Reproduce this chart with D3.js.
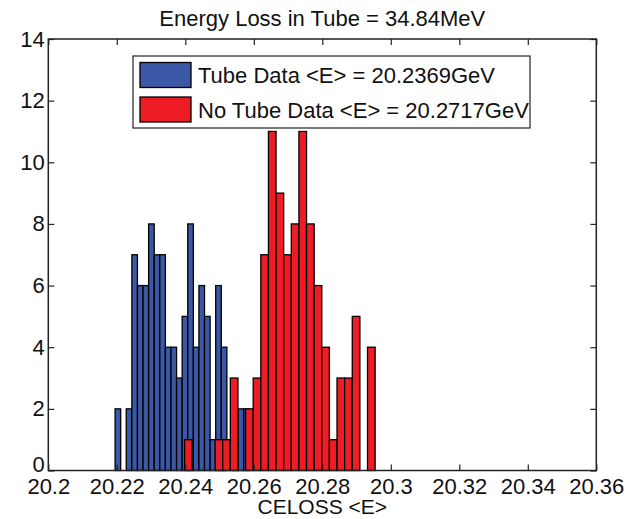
<!DOCTYPE html>
<html>
<head>
<meta charset="utf-8">
<script src="https://cdn.jsdelivr.net/npm/d3@7"></script>
<style>
  html, body { margin: 0; padding: 0; background: #fff; }
  svg { display: block; }
  text { font-family: "Liberation Sans", Arial, Helvetica, sans-serif; fill: #111; }
</style>
</head>
<body>
<svg id="chart" width="630" height="519"></svg>
<script>
// Histogram of reconstructed energy, with and without the tube
const titleText = "Energy Loss in Tube = 34.84MeV";
const xLabel = "CELOSS <E>";

// Tube data: equal-width bins starting at tubeBinStart
const tubeBinStart = 20.2195;
const tubeBinWidth = 0.001632;
const tubeCounts = [2, 0, 2, 7, 6, 6, 8, 7, 7, 4, 4, 3, 5, 8, 4, 6, 5, 1, 6, 4, 0, 2, 2, 2];
const tubeLabel = "Tube Data <E> = 20.2369GeV";

// No-tube data
const noTubeBinStart = 20.2398;
const noTubeBinWidth = 0.002225;
const noTubeCounts = [1, 0, 0, 0, 1, 1, 3, 0, 2, 3, 7, 11, 9, 7, 8, 11, 8, 6, 4, 1, 3, 3, 5, 0, 4];
const noTubeLabel = "No Tube Data <E> = 20.2717GeV";

const xTicks = [20.2, 20.22, 20.24, 20.26, 20.28, 20.3, 20.32, 20.34, 20.36];
const yTicks = [0, 2, 4, 6, 8, 10, 12, 14];

const blue = "#3b58a6";
const red = "#ee1d25";

const svg = d3.select("#chart");
const margin = { left: 48.3, right: 630 - 596.3, top: 39, bottom: 519 - 470.5 };
const W = 630, H = 519;

const x = d3.scaleLinear().domain([20.2, 20.36]).range([margin.left, W - margin.right]);
const y = d3.scaleLinear().domain([0, 14]).range([H - margin.bottom, margin.top]);

function bins(start, width, counts) {
  return counts.map((c, i) => ({ x0: start + i * width, x1: start + (i + 1) * width, n: c }))
               .filter(d => d.n > 0);
}

const plot = svg.append("g");

function drawBars(data, color) {
  plot.append("g").selectAll("rect").data(data).join("rect")
    .attr("x", d => x(d.x0))
    .attr("width", d => x(d.x1) - x(d.x0))
    .attr("y", d => y(d.n))
    .attr("height", d => y(0) - y(d.n))
    .attr("fill", color)
    .attr("stroke", "#000")
    .attr("stroke-width", 1.3);
}

drawBars(bins(tubeBinStart, tubeBinWidth, tubeCounts), blue);
drawBars(bins(noTubeBinStart, noTubeBinWidth, noTubeCounts), red);

// Axes with inward ticks on all four sides
const fmt = d => String(+d.toFixed(2));
const tick = 6;

const gx = svg.append("g").attr("transform", `translate(0,${y(0)})`)
  .call(d3.axisBottom(x).tickValues(xTicks).tickFormat(fmt).tickSizeInner(-tick).tickSizeOuter(0).tickPadding(8));
const gxTop = svg.append("g").attr("transform", `translate(0,${y(14)})`)
  .call(d3.axisTop(x).tickValues(xTicks).tickFormat("").tickSizeInner(-tick).tickSizeOuter(0));
const gy = svg.append("g").attr("transform", `translate(${x(20.2)},0)`)
  .call(d3.axisLeft(y).tickValues(yTicks).tickFormat(d3.format("d")).tickSizeInner(-tick).tickSizeOuter(0).tickPadding(3.5));
const gyRight = svg.append("g").attr("transform", `translate(${x(20.36)},0)`)
  .call(d3.axisRight(y).tickValues(yTicks).tickFormat("").tickSizeInner(-tick).tickSizeOuter(0));

[gx, gxTop, gy, gyRight].forEach(g => {
  g.selectAll(".domain").remove();
  g.selectAll("line").attr("stroke", "#222").attr("stroke-width", 1.2);
  g.selectAll("text").attr("font-size", 22).attr("fill", "#111")
    .attr("font-family", '"Liberation Sans", Arial, sans-serif');
});
// the zero label sits just above the first x label
gy.selectAll(".tick").filter(d => d === 0).select("text").attr("dy", "0.05em");

svg.append("rect")
  .attr("x", x(20.2)).attr("y", y(14))
  .attr("width", x(20.36) - x(20.2)).attr("height", y(0) - y(14))
  .attr("fill", "none").attr("stroke", "#222").attr("stroke-width", 1.5);

// Title and axis label
svg.append("text").attr("x", (x(20.2) + x(20.36)) / 2).attr("y", 26)
  .attr("text-anchor", "middle").attr("font-size", 22).text(titleText);
svg.append("text").attr("x", (x(20.2) + x(20.36)) / 2).attr("y", 514)
  .attr("text-anchor", "middle").attr("font-size", 21).text(xLabel);

// Legend
const legend = svg.append("g");
legend.append("rect").attr("x", 133).attr("y", 56).attr("width", 397).attr("height", 72)
  .attr("fill", "#fff").attr("stroke", "#222").attr("stroke-width", 1.2);
const entries = [{ label: tubeLabel, color: blue }, { label: noTubeLabel, color: red }];
entries.forEach((e, i) => {
  const cy = 75 + i * 34.5;
  legend.append("rect").attr("x", 140).attr("y", cy - 12.5).attr("width", 51).attr("height", 25)
    .attr("fill", e.color).attr("stroke", "#000").attr("stroke-width", 1.3);
  legend.append("text").attr("x", 198).attr("y", cy + 8).attr("font-size", 22).text(e.label);
});
</script>
</body>
</html>
